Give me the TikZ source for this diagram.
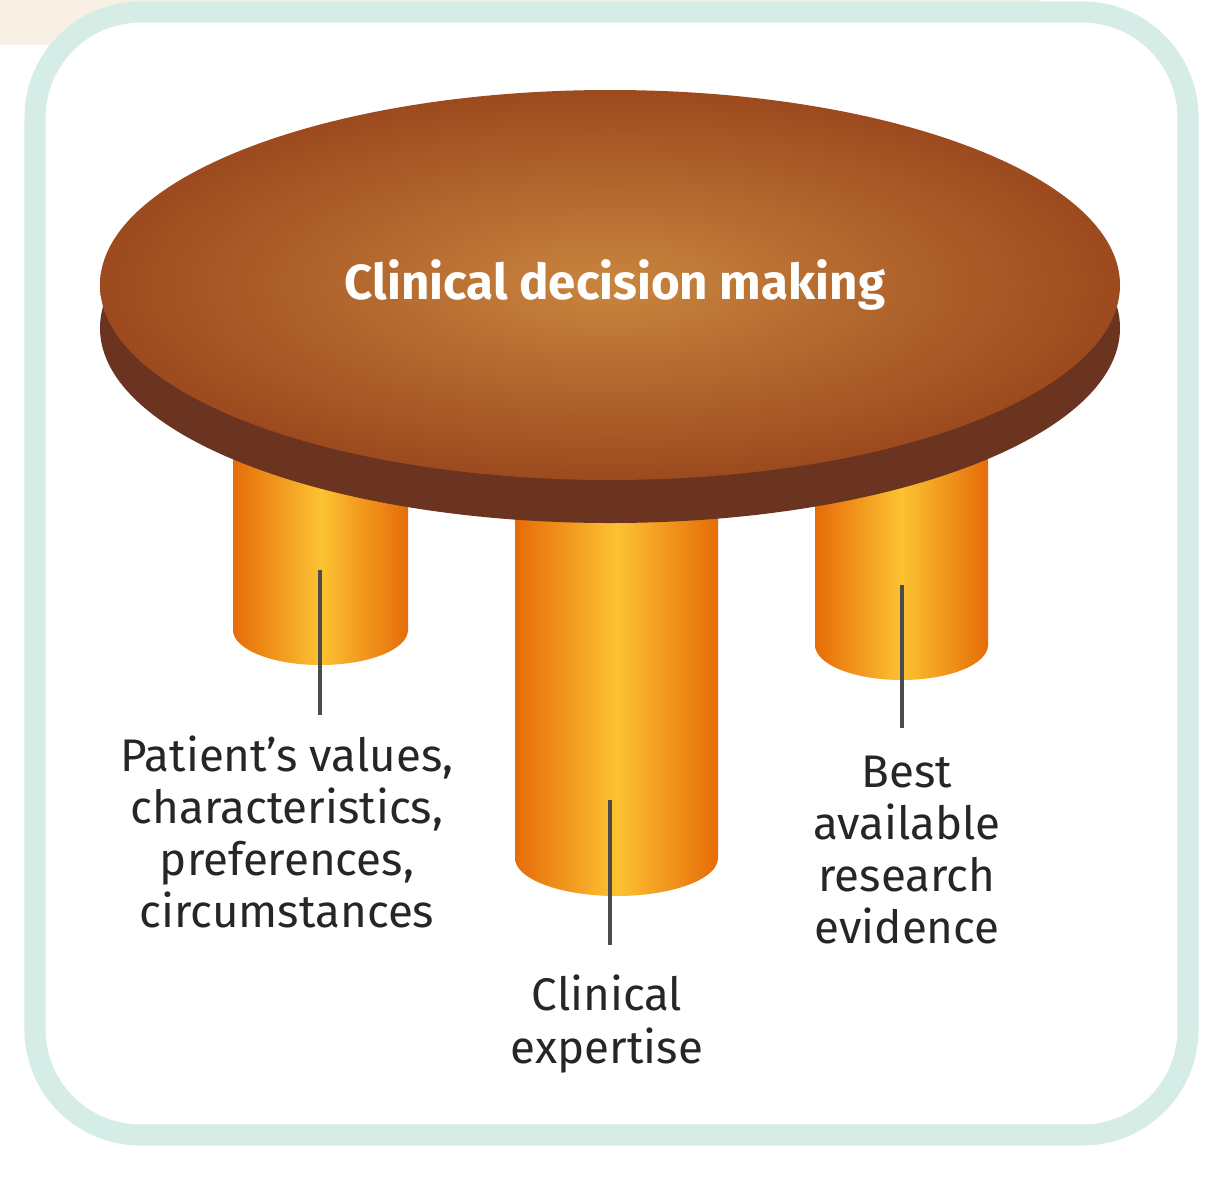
\documentclass[tikz,border=0pt]{standalone}
\usepackage{fontspec}
\setmainfont{Fira Sans}
\usetikzlibrary{positioning}
\definecolor{frameteal}{HTML}{D6ECE7}
\definecolor{bandbeige}{HTML}{F8F0E4}
\definecolor{topedge}{HTML}{9C4A1E}
\definecolor{topmid}{HTML}{C9853E}
\definecolor{rimbrown}{HTML}{6B3421}
\definecolor{legedge}{HTML}{E66C08}
\definecolor{legmid}{HTML}{FCC232}
\tikzset{
  leg/.style={shading=axis, left color=legedge, right color=legedge, middle color=legmid, shading angle=90},
  label/.style={font=\fontsize{13}{14.8}\selectfont, align=center, text=black!85},
  pointer/.style={draw=black!70, line width=1.4pt},
}
\begin{document}
\begin{tikzpicture}[x=0.01cm, y=0.01cm]
\useasboundingbox (0,0) rectangle (1228,-1200);
\fill[bandbeige] (0,0) rectangle (1040,-45);
\draw[frameteal, line width=6pt, fill=white, rounded corners=30] (35,-12) rectangle (1188,-1135);

% legs
\path[leg] (233,-450) -- (233,-630) arc[start angle=180, end angle=360, x radius=87.5, y radius=35] -- (408,-450) -- cycle;
\path[leg] (815,-450) -- (815,-645) arc[start angle=180, end angle=360, x radius=86.5, y radius=35] -- (988,-450) -- cycle;
\path[leg] (515,-500) -- (515,-858) arc[start angle=180, end angle=360, x radius=101.5, y radius=38] -- (718,-500) -- cycle;

% table
\fill[rimbrown] (610,-328) ellipse[x radius=510, y radius=195];
\path[inner color=topmid, outer color=topedge] (610,-285) ellipse[x radius=510, y radius=195];
\node[font=\bfseries\fontsize{14}{16}\selectfont, text=white] (title) at (615,-285) {Clinical decision making};

% labels
\node[label] (patient) at (287,-832) {Patient’s values,\\characteristics,\\preferences,\\circumstances};
\node[label] (expertise) at (607,-1024) {Clinical\\expertise};
\node[label] (evidence) at (907,-850) {Best\\available\\research\\evidence};

\coordinate (pleg) at (320,-570);
\coordinate (mleg) at (610,-800);
\coordinate (rleg) at (902,-585);
\draw[pointer] (pleg) -- (320,-715);
\draw[pointer] (mleg) -- (610,-945);
\draw[pointer] (rleg) -- (902,-728);
\end{tikzpicture}
\end{document}
